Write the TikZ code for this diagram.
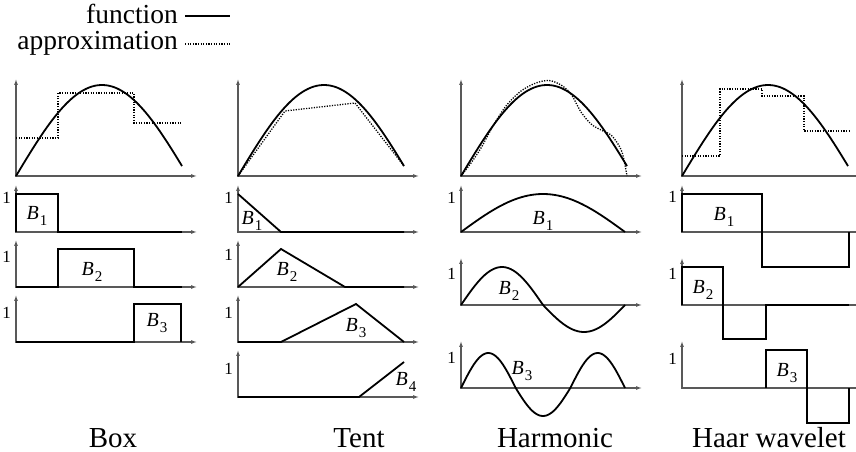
\documentclass[tikz,border=0pt]{standalone}
\usepackage{fontspec}
\setmainfont{Liberation Serif}
\usetikzlibrary{arrows.meta}
\newcommand{\bname}[1]{\textit{B}\hspace{1pt}\raisebox{-6.5pt}{\fontsize{15}{15}\selectfont #1}}

\begin{document}
\begin{tikzpicture}[x=1pt, y=1pt,
axis/.style={draw=black!65, line width=1.1pt, {Latex[length=6pt,width=4pt]}-{Latex[length=6pt,width=4pt]}},
curve/.style={line width=1.8pt},
approx/.style={line width=1.3pt, dash pattern=on 1.2pt off 1.4pt},
title/.style={inner sep=0pt, font=\fontsize{29}{31}\selectfont},
legtext/.style={inner sep=0pt, anchor=base east, font=\fontsize{27.5}{30}\selectfont},
one/.style={inner sep=0pt, anchor=east, font=\fontsize{17}{17}\selectfont},
blbl/.style={inner sep=0pt, font=\fontsize{20}{20}\selectfont}]
\useasboundingbox (0,0) rectangle (856,452);
\node[legtext] (legfn) at (178,428) {function};
\node[legtext] (legap) at (178,402.5) {approximation};
\draw[curve] ([shift={(7,8)}]legfn.base east) -- ++(45,0);
\draw[approx] ([shift={(7,5.5)}]legap.base east) -- ++(45,0);
\foreach \ox in {16,238,461,682} {
  \draw[axis] (\ox,373) -- (\ox,276) -- (\ox+181,276);
  \draw[curve] plot[domain=0:166, samples=60] ({\ox+\x},{276+91*sin(1.04651*\x)});
}
\draw[approx] (16,314) -| (58,359) -| (134,329) -- (181,329);
\draw[approx] (238,276) -- (285,341) -- (355,349) -- (404,286);
\draw[approx] plot[smooth] coordinates {(461,276) (471,289) (481,304) (493,326) (506,346) (521,361)
  (536,369) (549,371.5) (561,367) (571,358) (581,340) (591,328) (601,322) (611,317) (618,308)
  (622,300) (625,287) (627,276)};
\draw[approx] (682,296) -| (720,363) -| (762,356) -| (804,321) -- (850,321);
\foreach \ay in {220,165,110} \draw[axis] (16,\ay+47) -- (16,\ay) -- (197,\ay);
\foreach \ay in {220,165,110,55} \draw[axis] (238,\ay+47) -- (238,\ay) -- (419,\ay);
\foreach \ay in {220,147,64} {
  \draw[axis] (461,\ay+47) -- (461,\ay) -- (642,\ay);
  \draw[axis] (682,\ay+47) -- (682,\ay) -- (863,\ay);
}
\draw[curve] (16,220) -- (16,258) -| (58,220) -- (182,220);
\draw[curve] (16,165) -| (58,203) -| (134,165) -- (182,165);
\draw[curve] (16,110) -| (134,148) -| (181,110);
\draw[curve] (238,258) -- (281,220) -- (404,220);
\draw[curve] (238,165) -- (281,203) -- (345,165) -- (404,165);
\draw[curve] (238,110) -- (281,110) -- (356,148) -- (404,110);
\draw[curve] (238,55) -- (359,55) -- (404,90);
\draw[curve] plot[domain=0:164, samples=50] ({461+\x},{220+38*sin(1.09756*\x)});
\draw[curve] plot[domain=0:164, samples=70] ({461+\x},{147+38*max(sin(2.19512*\x),0)+27*min(sin(2.19512*\x),0)});
\draw[curve] plot[domain=0:164, samples=90] ({461+\x},{64+35*max(sin(3.29268*\x),0)+28*min(sin(3.29268*\x),0)});
\draw[curve] (682,220) -- (682,258) -| (762,185) -| (849,220);
\draw[curve] (682,147) -- (682,185) -| (723,113) -| (766,147) -- (849,147);
\draw[curve] (766,64) -- (766,102) -| (807,29) -| (849,64);
\node[one] (boxone1) at (11,254.5) {1};
\node[one] (boxone2) at (11,195.5) {1};
\node[one] (boxone3) at (11,139) {1};
\node[one] (tentone1) at (233,254.5) {1};
\node[one] (tentone2) at (233,197) {1};
\node[one] (tentone3) at (233,139.5) {1};
\node[one] (tentone4) at (233,83.5) {1};
\node[one] (harmone1) at (456,254.5) {1};
\node[one] (harmone2) at (456,178.5) {1};
\node[one] (harmone3) at (456,94.5) {1};
\node[one] (haarone1) at (677,255) {1};
\node[one] (haarone2) at (677,178.5) {1};
\node[one] (haarone3) at (677,93.5) {1};
\node[blbl] (boxB1) at (37,236) {\bname{1}};
\node[blbl] (boxB2) at (92,180) {\bname{2}};
\node[blbl] (boxB3) at (157,129) {\bname{3}};
\node[blbl] (tentB1) at (252,231) {\bname{1}};
\node[blbl] (tentB2) at (287,180) {\bname{2}};
\node[blbl] (tentB3) at (356,124) {\bname{3}};
\node[blbl] (tentB4) at (406,70) {\bname{4}};
\node[blbl] (harmB1) at (543,231) {\bname{1}};
\node[blbl] (harmB2) at (509,161) {\bname{2}};
\node[blbl] (harmB3) at (522,81) {\bname{3}};
\node[blbl] (haarB1) at (724,235) {\bname{1}};
\node[blbl] (haarB2) at (703,162) {\bname{2}};
\node[blbl] (haarB3) at (787,79) {\bname{3}};
\node[title, anchor=base] (boxname) at (113,5) {Box};
\node[title, anchor=base] (tentname) at (359,5) {Tent};
\node[title, anchor=base] (harmname) at (555,5) {Harmonic};
\node[title, anchor=base] (haarname) at (769,5) {Haar wavelet};
\end{tikzpicture}
\end{document}
